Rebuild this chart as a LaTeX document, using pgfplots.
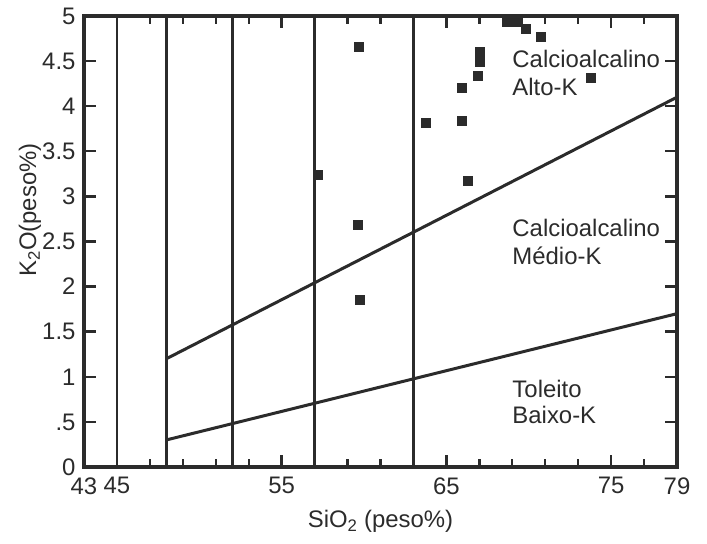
\documentclass[border=0pt]{standalone}
\usepackage{pgfplots}
\pgfplotsset{compat=1.18}
\usepackage{fontspec}
\setmainfont{Liberation Sans}
\definecolor{ink}{HTML}{2B2B2B}

\begin{document}
\begin{tikzpicture}[font=\fontsize{24}{28}\selectfont]
\begin{axis}[
  scale only axis,
  width=593bp, height=451bp,
  xmin=43, xmax=79, ymin=0, ymax=5,
  axis line style={draw=ink, line width=3.2bp},
  every outer x axis line/.append style={draw=ink, line width=3.2bp},
  every outer y axis line/.append style={draw=ink, line width=3.2bp},
  tick align=inside,
  major tick length=12bp,
  minor tick length=8bp,
  every tick/.style={draw=ink, line width=2.4bp},
  every minor tick/.style={draw=ink, line width=2.4bp},
  xtick={43,45,55,65,75,79},
  xticklabels={43,45,55,65,75,79},
  minor xtick={47,49,51,53,57,59,61,63,67,69,71,73,77},
  ytick={0,0.5,...,5},
  yticklabels={0,.5,1,1.5,2,2.5,3,3.5,4,4.5,5},
  /pgf/number format/assume math mode=true,
  ticklabel style={text=ink, font=\fontsize{24}{28}\selectfont},
  xticklabel style={yshift=-7bp},
  yticklabel style={xshift=-5bp},
  xlabel={SiO\textsubscript{2} (peso\%)},
  ylabel={K\textsubscript{2}O(peso\%)},
  xlabel style={at={(axis description cs:0.5,-0.12)}, anchor=center, text=ink},
  ylabel style={at={(axis description cs:-0.091,0.57)}, anchor=center, text=ink},
  clip=false,
]
% silica divisions
\addplot[ink, line width=2.8bp] coordinates {(45,0) (45,5)};
\addplot[ink, line width=2.8bp] coordinates {(48,0) (48,5)};
\addplot[ink, line width=2.8bp] coordinates {(52,0) (52,5)};
\addplot[ink, line width=2.8bp] coordinates {(57,0) (57,5)};
\addplot[ink, line width=2.8bp] coordinates {(63,0) (63,5)};
% series boundaries
\addplot[ink, line width=3bp] coordinates {(48,1.2) (79,4.1)};
\addplot[ink, line width=3bp] coordinates {(48,0.3) (79,1.7)};
% samples
\addplot[only marks, mark=square*, mark size=4.5bp, ink] coordinates {
  (57.19,3.24) (59.70,4.66) (59.64,2.69) (59.76,1.85)
  (63.77,3.82) (65.93,3.84) (65.95,4.21) (66.31,3.17)
  (66.90,4.34) (67.04,4.60) (67.04,4.49)
  (68.68,4.94) (68.99,4.94) (69.35,4.94)
  (69.82,4.86) (70.73,4.77) (73.78,4.32)
};
\node[anchor=base west, text=ink, inner sep=0] at (axis cs:69,4.43) {Calcioalcalino};
\node[anchor=base west, text=ink, inner sep=0] at (axis cs:69,4.12) {Alto-K};
\node[anchor=base west, text=ink, inner sep=0] at (axis cs:69,2.56) {Calcioalcalino};
\node[anchor=base west, text=ink, inner sep=0] at (axis cs:69,2.24) {Médio-K};
\node[anchor=base west, text=ink, inner sep=0] at (axis cs:69,0.776) {Toleito};
\node[anchor=base west, text=ink, inner sep=0] at (axis cs:69,0.477) {Baixo-K};
\end{axis}
\pgfresetboundingbox
\path[use as bounding box] ([xshift=-84bp,yshift=-77bp]current axis.south west)
  rectangle ([xshift=30bp,yshift=16bp]current axis.north east);
\end{tikzpicture}
\end{document}
